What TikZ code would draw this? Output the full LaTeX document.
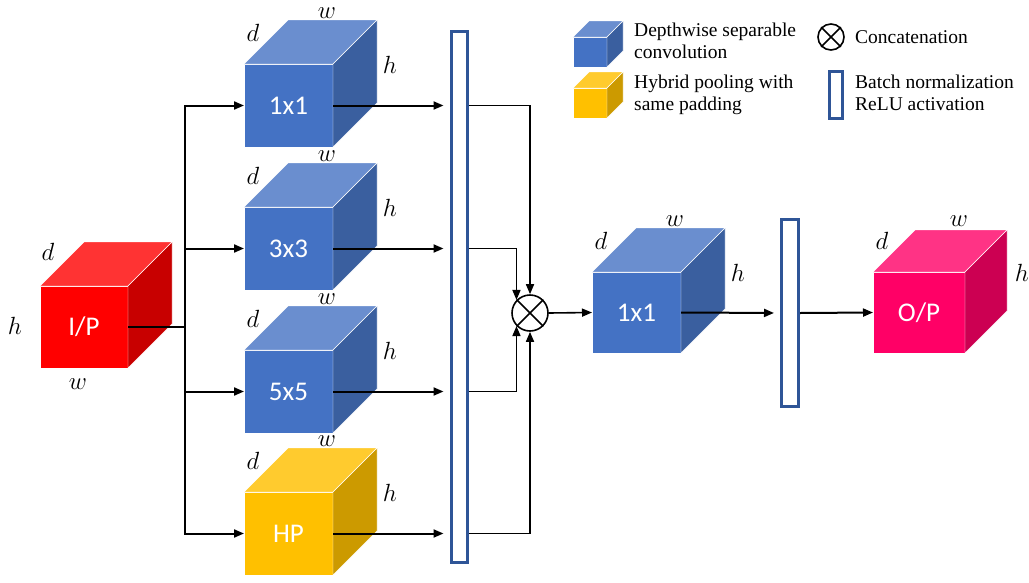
\documentclass[tikz,border=0pt]{standalone}
\usepackage{fontspec}
\setmainfont{Liberation Serif}
\newfontfamily\cubefont{Carlito}
\usetikzlibrary{arrows.meta}

\definecolor{bluefront}{HTML}{4472C4}
\definecolor{bluetop}{HTML}{6A8ECF}
\definecolor{blueside}{HTML}{3A5F9F}
\definecolor{redfront}{HTML}{FF0000}
\definecolor{redtop}{HTML}{FF3333}
\definecolor{redside}{HTML}{C80000}
\definecolor{yellowfront}{HTML}{FFC000}
\definecolor{yellowtop}{HTML}{FFCB2E}
\definecolor{yellowside}{HTML}{CC9A00}
\definecolor{pinkfront}{HTML}{FF0066}
\definecolor{pinktop}{HTML}{FF3385}
\definecolor{pinkside}{HTML}{CC0052}
\definecolor{barblue}{HTML}{2F5597}

\tikzset{
    cubeface/.style={rectangle, draw=white, thin, inner sep=0pt, outer sep=0pt,
        text=white, font=\cubefont\fontsize{27}{27}\selectfont},
    dimlabel/.style={inner sep=0pt, font=\fontsize{26}{26}\selectfont},
    bnbar/.style={rectangle, draw=barblue, line width=3pt, fill=white, inner sep=0pt},
    arr/.style={line width=2pt, -{Triangle[length=10pt,width=8pt]}},
    legtext/.style={anchor=west, align=left, inner sep=0pt,
        font=\fontsize{19.5}{22}\selectfont}
}

% #1 name, #2 centre of front face, #3 colour, #4 width, #5 height, #6 depth, #7 text
\newcommand{\blockcube}[7]{%
    \node[cubeface, fill=#3front, minimum width=#4, minimum height=#5] (#1) at (#2) {#7};
    \filldraw[fill=#3top, draw=white] (#1.north west) -- ++(#6,-#6) -- ++(#4,0) -- (#1.north east) -- cycle;
    \filldraw[fill=#3side, draw=white] (#1.north east) -- ++(#6,-#6) -- ++(0,#5) -- (#1.south east) -- cycle;
}
% d, w and h on a cube
\newcommand{\dimlabels}[1]{%
    \node[dimlabel] (#1-d) at ([shift={(9,-31)}]#1.north west) {$d$};
    \node[dimlabel] (#1-w) at ([shift={(-6,-51)}]#1.north east) {$w$};
    \node[dimlabel] (#1-h) at ([shift={(57,1)}]#1.north east) {$h$};
}

\begin{document}
\begin{tikzpicture}[x=1pt, y=-1pt]
    \useasboundingbox (0,0) rectangle (1029,582);

    % input
    \blockcube{ip}{84,327}{red}{88}{82}{44}{I/P}
    \node[dimlabel] (ip-d) at ([shift={(8,-34)}]ip.north west) {$d$};
    \node[dimlabel] (ip-h) at ([shift={(-25,-1)}]ip.west) {$h$};
    \node[dimlabel] (ip-w) at ([shift={(-6,16)}]ip.south) {$w$};

    % parallel branches
    \blockcube{c1}{288.5,105.5}{blue}{89}{83}{44}{1x1}
    \blockcube{c3}{288.5,248.5}{blue}{89}{83}{44}{3x3}
    \blockcube{c5}{288.5,391.5}{blue}{89}{83}{44}{5x5}
    \blockcube{hp}{288.5,533.5}{yellow}{89}{83}{44}{HP}
    \dimlabels{c1}
    \dimlabels{c3}
    \dimlabels{c5}
    \dimlabels{hp}

    \node[bnbar, minimum width=16, minimum height=531] (bn1) at (459,296.5) {};
    \node[circle, draw, line width=1.6pt, minimum size=36, inner sep=0pt] (cat) at (530,313) {};
    \draw[line width=1.6pt] (cat.45) -- (cat.225) (cat.135) -- (cat.-45);

    % after concatenation
    \blockcube{cv}{636.5,312.5}{blue}{89}{81}{44}{1x1}
    \dimlabels{cv}
    \node[bnbar, minimum width=17, minimum height=187] (bn2) at (790,313) {};
    \blockcube{op}{919,312.5}{pink}{92}{81}{42}{O/P}
    \dimlabels{op}

    % connectors
    \coordinate (fork) at (185,327);
    \draw[line width=2pt] (ip.east) -- (fork);
    \foreach \c in {c1,c3,c5,hp}{
        \draw[arr] (fork) |- (\c.west);
        \draw[arr, shorten >=6pt] (\c.east) -- (\c.east -| bn1.west);
    }
    \draw[arr, line width=1.6pt] (c1.east -| bn1.east) -| (cat.north);
    \draw[arr, line width=1.6pt] (c3.east -| bn1.east) -| (cat.136);
    \draw[arr, line width=1.6pt] (c5.east -| bn1.east) -| (cat.224);
    \draw[arr, line width=1.6pt] (hp.east -| bn1.east) -| (cat.south);
    \draw[arr, line width=1.6pt] (cat.east) -- (cv.west);
    \draw[arr, shorten >=6pt] (cv.east) -- (bn2.west);
    \draw[arr] (bn2.east) -- (op.west);

    % legend
    \blockcube{lg1}{590,52}{blue}{34}{30}{16}{}
    \blockcube{lg2}{590,103}{yellow}{34}{30}{16}{}
    \node[legtext] (lgt1) at (634,41) {Depthwise separable\\convolution};
    \node[legtext] (lgt2) at (634,95) {Hybrid pooling with\\same padding};
    \node[circle, draw, line width=1.6pt, minimum size=26, inner sep=0pt] (lgcat) at (831,37) {};
    \draw[line width=1.6pt] (lgcat.45) -- (lgcat.225) (lgcat.135) -- (lgcat.-45);
    \node[legtext] (lgt3) at (855,37) {Concatenation};
    \node[bnbar, minimum width=13, minimum height=47] (lgbn) at (836,95) {};
    \node[legtext] (lgt4) at (855,93) {Batch normalization\\ReLU activation};
\end{tikzpicture}
\end{document}
